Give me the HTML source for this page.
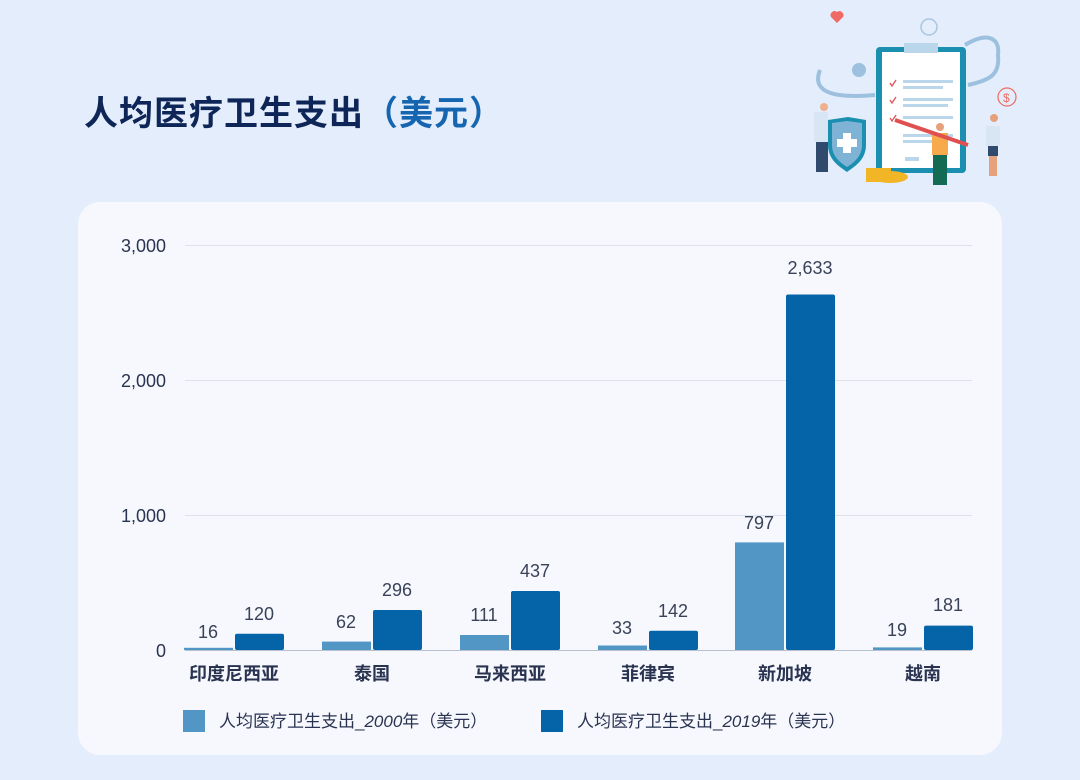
<!DOCTYPE html>
<html><head><meta charset="utf-8"><style>
html,body{margin:0;padding:0}
body{width:1080px;height:780px;background:#e3edfb;position:relative;overflow:hidden;font-family:"Liberation Sans","Noto Sans CJK SC",sans-serif}
.title{position:absolute;left:84px;top:86px;font-size:34px;font-weight:bold;color:#0e2557;letter-spacing:1px;font-family:"Noto Sans CJK SC",sans-serif}
.title span{color:#1565b0}
.card{position:absolute;left:78px;top:202px;width:924px;height:553px;background:#f6f8fe;border-radius:22px}
</style></head><body>
<div class="title">人均医疗卫生支出<span>（美元）</span></div>
<svg style="position:absolute;left:800px;top:10px" width="230" height="190" viewBox="0 0 230 190">
<path d="M37,13 l-6,-6 a4,4 0 0 1 6,-5 a4,4 0 0 1 6,5z" fill="#ef6a64"/>
<circle cx="129" cy="17" r="8" fill="none" stroke="#a9c6e0" stroke-width="1.5"/>
<path d="M20,60 C10,85 40,88 75,85" stroke="#9cc0de" stroke-width="4" fill="none"/>
<circle cx="59" cy="60" r="7" fill="#9cc0de"/>
<path d="M165,35 C190,20 200,30 198,45 C200,65 190,70 168,75" stroke="#9cc0de" stroke-width="4" fill="none"/>
<circle cx="207" cy="87" r="9" fill="none" stroke="#ef6a64" stroke-width="1.2"/>
<text x="203" y="92" font-size="12" fill="#ef6a64" font-family="Liberation Sans">$</text>
<rect x="76" y="37" width="90" height="126" rx="4" fill="#1a8fb0"/>
<rect x="82" y="42" width="78" height="116" fill="#fff"/>
<rect x="104" y="33" width="34" height="10" fill="#b9d6ea"/>
<g fill="#b9d6ea"><rect x="103" y="70" width="50" height="3"/><rect x="103" y="76" width="40" height="3"/><rect x="103" y="88" width="50" height="3"/><rect x="103" y="94" width="45" height="3"/><rect x="103" y="106" width="50" height="3"/><rect x="103" y="124" width="50" height="3"/><rect x="103" y="130" width="40" height="3"/><rect x="105" y="147" width="14" height="4"/></g>
<g stroke="#e05050" stroke-width="1.3" fill="none"><path d="M90,73l2,3 4,-6"/><path d="M90,90l2,3 4,-6"/><path d="M90,108l2,3 4,-6"/></g>
<path d="M28,110 l20,-3 18,3 v25 c0,15 -12,22 -19,27 c-7,-5 -19,-12 -19,-27z" fill="#1a8fb0"/>
<path d="M32,113 l15,-2 15,2 v22 c0,12 -9,18 -15,22 c-6,-4 -15,-10 -15,-22z" fill="#7fb3d6"/>
<path d="M43,123h8v6h6v8h-6v6h-8v-6h-6v-8h6z" fill="#fff"/>
<rect x="14" y="102" width="14" height="30" fill="#d7e6f2"/><circle cx="24" cy="97" r="4" fill="#f0b08e"/>
<rect x="16" y="132" width="12" height="30" fill="#2f4a6d"/>
<ellipse cx="90" cy="167" rx="18" ry="6" fill="#f2b526"/>
<rect x="66" y="158" width="25" height="14" fill="#f2b526"/>
<rect x="132" y="123" width="16" height="22" fill="#f7a94c"/><circle cx="140" cy="117" r="4" fill="#e6a07a"/>
<rect x="133" y="145" width="14" height="30" fill="#136b54"/>
<path d="M95,110 L168,135" stroke="#e05050" stroke-width="4"/>
<rect x="186" y="116" width="14" height="20" fill="#d7e6f2"/><circle cx="194" cy="108" r="4" fill="#e6a07a"/>
<rect x="188" y="136" width="10" height="10" fill="#2f4a6d"/><rect x="189" y="146" width="8" height="20" fill="#e6a07a"/>
</svg>
<div class="card"></div>
<svg style="position:absolute;left:0;top:0" width="1080" height="780">
<g stroke="#dde2ec" stroke-width="1"><line x1="185" y1="245.5" x2="972" y2="245.5"/><line x1="185" y1="380.5" x2="972" y2="380.5"/><line x1="185" y1="515.5" x2="972" y2="515.5"/></g>
<line x1="185" y1="650.5" x2="972" y2="650.5" stroke="#b8c0d0"/>
<g font-size="18" fill="#2a3450" text-anchor="end" font-family="Liberation Sans"><text x="166" y="252">3,000</text><text x="166" y="387">2,000</text><text x="166" y="522">1,000</text><text x="166" y="657">0</text></g>
<g fill="#5296c6">
<rect x="184" y="647.8" width="49" height="2.2"/><rect x="322" y="641.6" width="49" height="8.4"/><rect x="460" y="635" width="49" height="15"/><rect x="598" y="645.5" width="49" height="4.5"/><rect x="735" y="542.4" width="49" height="107.6"/><rect x="873" y="647.4" width="49" height="2.6"/></g>
<g fill="#0563a8">
<rect x="235" y="633.8" width="49" height="16.2" rx="2"/><rect x="373" y="610" width="49" height="40" rx="2"/><rect x="511" y="591" width="49" height="59" rx="2"/><rect x="649" y="630.8" width="49" height="19.2" rx="2"/><rect x="786" y="294.5" width="49" height="355.5" rx="2"/><rect x="924" y="625.6" width="49" height="24.4" rx="2"/></g>
<g font-size="18" fill="#3a4257" text-anchor="middle" font-family="Liberation Sans">
<text x="208" y="638">16</text><text x="346" y="628">62</text><text x="484" y="621">111</text><text x="622" y="634">33</text><text x="759" y="529">797</text><text x="897" y="636">19</text>
<text x="259" y="620">120</text><text x="397" y="596">296</text><text x="535" y="577">437</text><text x="673" y="617">142</text><text x="810" y="274">2,633</text><text x="948" y="611">181</text></g>
<g font-size="18" font-weight="bold" fill="#2a3450" text-anchor="middle" font-family="Noto Sans CJK SC,sans-serif">
<text x="234" y="680">印度尼西亚</text><text x="372" y="680">泰国</text><text x="510" y="680">马来西亚</text><text x="648" y="680">菲律宾</text><text x="785" y="680">新加坡</text><text x="923" y="680">越南</text></g>
<rect x="183" y="710" width="22" height="22" fill="#5296c6"/>
<rect x="541" y="710" width="22" height="22" fill="#0563a8"/>
<g font-size="17" fill="#2a3450" font-family="Liberation Sans,Noto Sans CJK SC,sans-serif">
<text x="219" y="727">人均医疗卫生支出_<tspan font-style="italic">2000</tspan>年（美元）</text>
<text x="577" y="727">人均医疗卫生支出_<tspan font-style="italic">2019</tspan>年（美元）</text></g>
</svg>
</body></html>
